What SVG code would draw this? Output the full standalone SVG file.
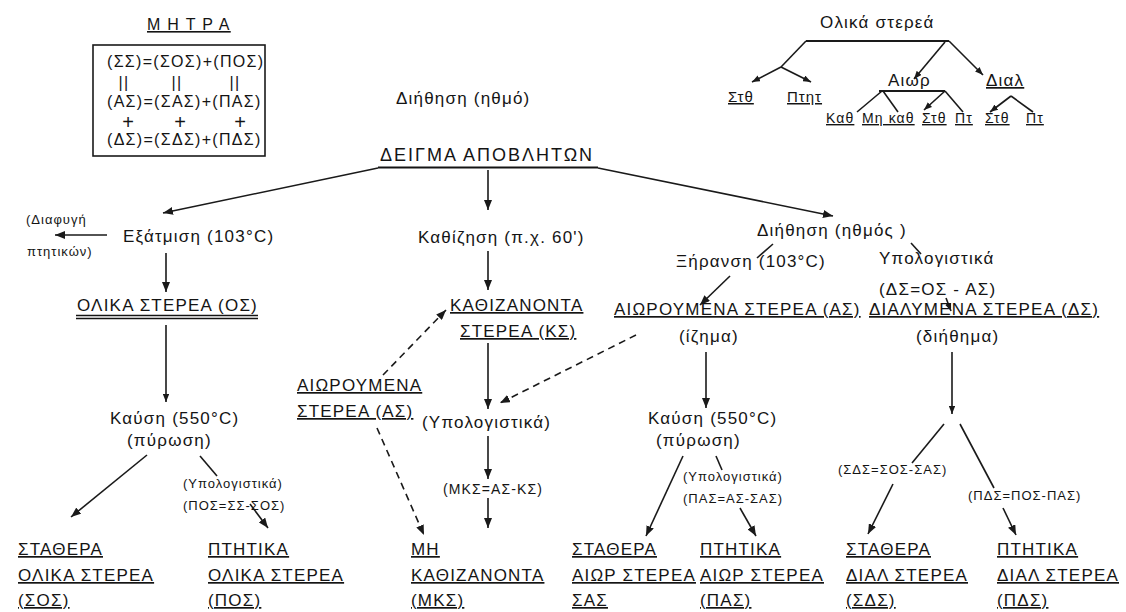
<svg xmlns="http://www.w3.org/2000/svg" width="1126" height="612" viewBox="0 0 1126 612">
<defs>
<style>
text{font-family:"Liberation Sans",Arial,"DejaVu Sans",sans-serif;fill:#141414}
.n{font-size:17px;letter-spacing:1.2px}
.u{text-decoration:underline}
.s{font-size:13px;letter-spacing:1px}
.m{font-size:16px;letter-spacing:1.3px}
.k{font-size:14px;letter-spacing:1.1px}
.c{stroke:#1a1a1a;stroke-width:1.6;fill:none}
.a{marker-end:url(#ah)}
.b{marker-end:url(#as)}
.d{stroke-dasharray:7 5}
.ul{stroke:#141414;stroke-width:1.4}
.mid{text-anchor:middle}
</style>
<marker id="ah" viewBox="0 0 10 8" refX="10" refY="4" markerWidth="10" markerHeight="8" orient="auto" markerUnits="userSpaceOnUse"><path d="M0,0 L10,4 L0,8 z" fill="#1a1a1a"/></marker>
<marker id="as" viewBox="0 0 10 8" refX="10" refY="4" markerWidth="8" markerHeight="6.5" orient="auto" markerUnits="userSpaceOnUse"><path d="M0,0 L10,4 L0,8 z" fill="#1a1a1a"/></marker>
</defs>
<rect width="1126" height="612" fill="#ffffff"/>

<g id="connectors">
  <!-- from sample -->
  <path class="c a" d="M378,168 L163,213"/>
  <path class="c a" d="M488,170 L488,210"/>
  <path class="c a" d="M598,168 L833,216"/>
  <!-- left column -->
  <path class="c a" d="M107,235 L55,235"/>
  <path class="c a" d="M166,253 L166,292"/>
  <path class="c b" d="M166,325 L166,402"/>
  <path class="c a" d="M147,455 L71,517"/>
  <path class="c" d="M200,456 L217,476"/>
  <path class="c a" d="M250,504 L268,528"/>
  <!-- middle column -->
  <path class="c a" d="M488,251 L488,290"/>
  <path class="c a" d="M488,343 L488,409"/>
  <path class="c a" d="M488,436 L488,479"/>
  <path class="c a" d="M488,498 L488,528"/>
  <path class="c a d" d="M383,375 L446,310"/>
  <path class="c a d" d="M636,335 L500,403"/>
  <path class="c a d" d="M377,428 L424,535"/>
  <!-- right columns -->
  <path class="c" d="M773,244 L757,258"/>
  <path class="c a" d="M730,276 L700,305"/>
  <path class="c" d="M911,243 L921,254"/>
  <path class="c b" d="M946,298 L951,311"/>
  <path class="c a" d="M706,352 L706,408"/>
  <path class="c a" d="M683,456 L646,536"/>
  <path class="c" d="M716,456 L722,470"/>
  <path class="c a" d="M740,508 L756,536"/>
  <path class="c b" d="M952,352 L952,414"/>
  <path class="c" d="M944,424 L912,463"/>
  <path class="c" d="M960,424 L994,488"/>
  <path class="c a" d="M893,484 L868,534"/>
  <path class="c a" d="M1003,508 L1016,535"/>
  <!-- top-right tree -->
  <path class="c" style="stroke-width:2" d="M806,41 H949"/>
  <path class="c" d="M806,41 L781,67"/>
  <path class="c b" d="M781,67 L752,82"/>
  <path class="c b" d="M781,67 L811,82"/>
  <path class="c b" d="M945,42 L914,79"/>
  <path class="c b" d="M949,41 L983,75"/>
  <path class="c" style="stroke-width:2" d="M879,91 H945"/>
  <path class="c" d="M882,91 L857,112"/>
  <path class="c" d="M883,91 L898,112"/>
  <path class="c b" d="M945,91 L924,110"/>
  <path class="c" d="M945,91 L963,112"/>
  <path class="c b" d="M1011,96 L990,112"/>
  <path class="c" d="M1011,96 L1033,112"/>
</g>

<g id="matrix">
  <text class="m u" x="147" y="30">Μ Η Τ Ρ Α</text>
  <rect x="93" y="45" width="172" height="111" fill="none" stroke="#1a1a1a" stroke-width="1.6"/>
  <text class="m" x="107" y="67">(ΣΣ)=(ΣΟΣ)+(ΠΟΣ)</text>
  <text class="m mid" x="124" y="88">||</text>
  <text class="m mid" x="177" y="88">||</text>
  <text class="m mid" x="235" y="88">||</text>
  <text class="m" x="107" y="107">(ΑΣ)=(ΣΑΣ)+(ΠΑΣ)</text>
  <text class="mid" style="font-size:20px" x="128" y="129">+</text>
  <text class="mid" style="font-size:20px" x="180" y="129">+</text>
  <text class="mid" style="font-size:20px" x="240" y="129">+</text>
  <text class="m" x="107" y="145">(ΔΣ)=(ΣΔΣ)+(ΠΔΣ)</text>
</g>

<g id="filtration-top"><text class="n" x="396" y="104">Διήθηση (ηθμό)</text></g>

<g id="sample">
  <text style="font-size:18px;letter-spacing:2px" x="380" y="161">ΔΕΙΓΜΑ ΑΠΟΒΛΗΤΩΝ</text>
  <line class="ul" style="stroke-width:2.2" x1="378" y1="167.5" x2="598" y2="167.5"/>
</g>

<g id="tree-total"><text class="n" x="820" y="28">Ολικά στερεά</text></g>
<g id="tree-stable"><text class="u" style="font-size:15px;letter-spacing:1px" x="728" y="102">Στθ</text></g>
<g id="tree-volatile"><text class="u" style="font-size:15px;letter-spacing:1px" x="787" y="102">Πτητ</text></g>
<g id="tree-suspended"><text class="n" x="888" y="86">Αιωρ</text></g>
<g id="tree-dissolved"><text class="n u" x="986" y="86">Διαλ</text></g>
<g id="tree-settle"><text class="k u" x="826" y="123">Καθ</text></g>
<g id="tree-nonsettle"><text class="k u" x="862" y="123">Μη καθ</text></g>
<g id="tree-susp-stable"><text class="k u" x="922" y="123">Στθ</text></g>
<g id="tree-susp-volatile"><text class="k u" x="955" y="123">Πτ</text></g>
<g id="tree-diss-stable"><text class="k u" x="985" y="123">Στθ</text></g>
<g id="tree-diss-volatile"><text class="k u" x="1026" y="123">Πτ</text></g>

<g id="escape">
  <text class="s" x="26" y="224">(Διαφυγή</text>
  <text class="s" x="27" y="256">πτητικών)</text>
</g>
<g id="evaporation"><text class="n" x="123" y="242">Εξάτμιση (103°C)</text></g>
<g id="total-solids">
  <text class="n" x="77" y="311">ΟΛΙΚΑ ΣΤΕΡΕΑ (ΟΣ)</text>
  <line class="ul" x1="76" y1="315.5" x2="258" y2="315.5"/>
  <line class="ul" x1="76" y1="318.5" x2="258" y2="318.5"/>
</g>
<g id="combustion-left">
  <text class="n" x="110" y="424">Καύση (550°C)</text>
  <text class="n" x="127" y="446">(πύρωση)</text>
</g>
<g id="calc-pos">
  <text class="s" x="183" y="488">(Υπολογιστικά)</text>
  <text class="s" x="183" y="510">(ΠΟΣ=ΣΣ-ΣΟΣ)</text>
</g>

<g id="settling"><text class="n" x="418" y="243">Καθίζηση (π.χ. 60')</text></g>
<g id="settleable">
  <text class="n u" x="450" y="311">ΚΑΘΙΖΑΝΟΝΤΑ</text>
  <text class="n u" x="460" y="337">ΣΤΕΡΕΑ (ΚΣ)</text>
</g>
<g id="suspended-left">
  <text class="n u" x="297" y="391">ΑΙΩΡΟΥΜΕΝΑ</text>
  <text class="n u" x="297" y="417">ΣΤΕΡΕΑ (ΑΣ)</text>
</g>
<g id="calc-mid"><text class="n" x="422" y="428">(Υπολογιστικά)</text></g>
<g id="calc-mks"><text class="k" x="443" y="494">(ΜΚΣ=ΑΣ-ΚΣ)</text></g>

<g id="filtration-right"><text class="n" x="757" y="236">Διήθηση (ηθμός )</text></g>
<g id="drying"><text class="n" x="676" y="267">Ξήρανση (103°C)</text></g>
<g id="calc-ds">
  <text class="n" x="879" y="264">Υπολογιστικά</text>
  <text class="n" x="879" y="295">(ΔΣ=ΟΣ - ΑΣ)</text>
</g>
<g id="suspended">
  <text class="n u" x="614" y="315">ΑΙΩΡΟΥΜΕΝΑ ΣΤΕΡΕΑ (ΑΣ)</text>
  <text class="n" x="679" y="342">(ίζημα)</text>
</g>
<g id="dissolved">
  <text class="n u" x="869" y="315">ΔΙΑΛΥΜΕΝΑ ΣΤΕΡΕΑ (ΔΣ)</text>
  <text class="n" x="916" y="342">(διήθημα)</text>
</g>
<g id="combustion-right">
  <text class="n" x="648" y="424">Καύση (550°C)</text>
  <text class="n" x="656" y="446">(πύρωση)</text>
</g>
<g id="calc-pas">
  <text class="s" x="683" y="481">(Υπολογιστικά)</text>
  <text class="s" x="683" y="503">(ΠΑΣ=ΑΣ-ΣΑΣ)</text>
</g>
<g id="calc-sds"><text class="s" x="838" y="474">(ΣΔΣ=ΣΟΣ-ΣΑΣ)</text></g>
<g id="calc-pds"><text class="s" x="968" y="500">(ΠΔΣ=ΠΟΣ-ΠΑΣ)</text></g>

<g id="node-sos">
  <text class="n u" x="18" y="555">ΣΤΑΘΕΡΑ</text>
  <text class="n u" x="18" y="581">ΟΛΙΚΑ ΣΤΕΡΕΑ</text>
  <text class="n u" x="18" y="606">(ΣΟΣ)</text>
</g>
<g id="node-pos">
  <text class="n u" x="208" y="555">ΠΤΗΤΙΚΑ</text>
  <text class="n u" x="208" y="581">ΟΛΙΚΑ ΣΤΕΡΕΑ</text>
  <text class="n u" x="208" y="606">(ΠΟΣ)</text>
</g>
<g id="node-mks">
  <text class="n u" x="411" y="555">ΜΗ</text>
  <text class="n u" x="411" y="581">ΚΑΘΙΖΑΝΟΝΤΑ</text>
  <text class="n u" x="411" y="606">(ΜΚΣ)</text>
</g>
<g id="node-sas">
  <text class="n u" x="572" y="555">ΣΤΑΘΕΡΑ</text>
  <text class="n u" x="572" y="581">ΑΙΩΡ ΣΤΕΡΕΑ</text>
  <text class="n u" x="572" y="606">ΣΑΣ</text>
</g>
<g id="node-pas">
  <text class="n u" x="700" y="555">ΠΤΗΤΙΚΑ</text>
  <text class="n u" x="700" y="581">ΑΙΩΡ ΣΤΕΡΕΑ</text>
  <text class="n u" x="700" y="606">(ΠΑΣ)</text>
</g>
<g id="node-sds">
  <text class="n u" x="846" y="555">ΣΤΑΘΕΡΑ</text>
  <text class="n u" x="846" y="581">ΔΙΑΛ ΣΤΕΡΕΑ</text>
  <text class="n u" x="846" y="606">(ΣΔΣ)</text>
</g>
<g id="node-pds">
  <text class="n u" x="997" y="555">ΠΤΗΤΙΚΑ</text>
  <text class="n u" x="997" y="581">ΔΙΑΛ ΣΤΕΡΕΑ</text>
  <text class="n u" x="997" y="606">(ΠΔΣ)</text>
</g>
</svg>
